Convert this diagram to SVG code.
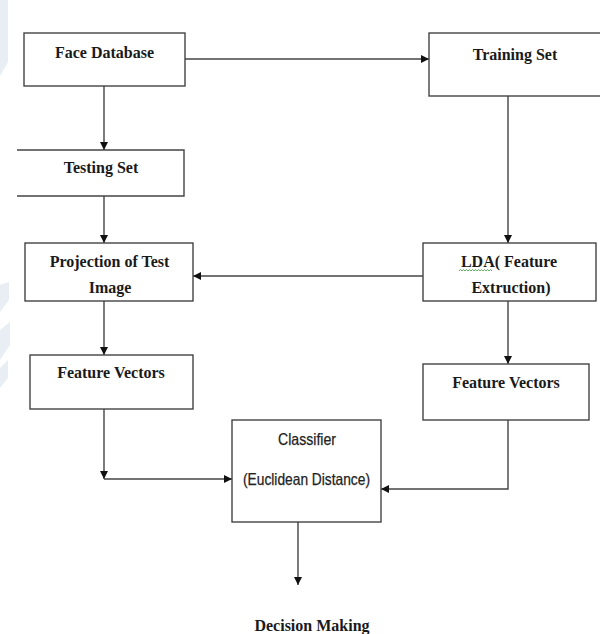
<svg xmlns="http://www.w3.org/2000/svg" width="600" height="634" viewBox="0 0 600 634">
  <defs>
    <marker id="arr" viewBox="0 0 10 10" refX="10" refY="5" markerWidth="8" markerHeight="8" orient="auto" markerUnits="userSpaceOnUse">
      <path d="M0,0 L10,5 L0,10 Z" fill="#111"/>
    </marker>
  </defs>
  <style>
    .box { fill: #fff; stroke: #444; stroke-width: 1.4; }
    .edge { fill: none; stroke: #444; stroke-width: 1.4; }
    .t { font-family: "Liberation Serif", "Times New Roman", serif; font-weight: bold; font-size: 16px; fill: #1a1a1a; text-anchor: middle; }
    .s { font-family: "Liberation Sans", Arial, sans-serif; font-size: 16.5px; fill: #222; text-anchor: middle; stroke: #222; stroke-width: 0.25; }
    .wm { fill: #e9edf4; }
  </style>
  <rect x="0" y="0" width="600" height="634" fill="#fff"/>
  <g id="watermark">
    <polygon class="wm" points="0,0 8,0 8,62 0,76"/>
    <polygon class="wm" points="0,285 9,282 9,300 0,312"/>
    <polygon class="wm" points="0,330 10,322 10,345 0,360"/>
    <polygon class="wm" points="0,368 8,360 8,378 0,388"/>
  </g>

  <g id="connectors">
    <path class="edge" d="M104,86 V150" marker-end="url(#arr)"/>
    <path class="edge" d="M185,59 H429" marker-end="url(#arr)"/>
    <path class="edge" d="M104,196 V243" marker-end="url(#arr)"/>
    <path class="edge" d="M508,96 V243" marker-end="url(#arr)"/>
    <path class="edge" d="M423,276 H193" marker-end="url(#arr)"/>
    <path class="edge" d="M104,301 V355" marker-end="url(#arr)"/>
    <path class="edge" d="M508,301 V364" marker-end="url(#arr)"/>
    <path class="edge" d="M104,409 V479" marker-end="url(#arr)"/>
    <path class="edge" d="M104,479 H232" marker-end="url(#arr)"/>
    <path class="edge" d="M508,420 V489 H381" marker-end="url(#arr)"/>
    <path class="edge" d="M298,522 V585" marker-end="url(#arr)"/>
  </g>

  <g id="face-database">
    <rect class="box" x="24" y="33" width="161" height="53"/>
    <text class="t" x="104.5" y="58">Face Database</text>
  </g>
  <g id="training-set">
    <rect class="box" x="429" y="33" width="180" height="63"/>
    <text class="t" x="515" y="60">Training Set</text>
  </g>
  <g id="testing-set">
    <rect x="17" y="150" width="167" height="46" fill="#fff"/>
    <path class="edge" d="M17,150 H184 V196 H17"/>
    <text class="t" x="101" y="173">Testing Set</text>
  </g>
  <g id="projection">
    <rect class="box" x="25" y="243" width="168" height="58"/>
    <text class="t" x="109.5" y="267">Projection of Test</text>
    <text class="t" x="110" y="293">Image</text>
  </g>
  <g id="lda">
    <rect class="box" x="423" y="243" width="173" height="58"/>
    <text class="t" x="509" y="267">LDA( Feature</text>
    <path d="M459,271 l1.5,-1.5 l1.5,1.5 l1.5,-1.5 l1.5,1.5 l1.5,-1.5 l1.5,1.5 l1.5,-1.5 l1.5,1.5 l1.5,-1.5 l1.5,1.5 l1.5,-1.5 l1.5,1.5 l1.5,-1.5 l1.5,1.5 l1.5,-1.5 l1.5,1.5 l1.5,-1.5 l1.5,1.5 l1.5,-1.5 l1.5,1.5 l1.5,-1.5 l1.5,1.5" fill="none" stroke="#3a9a3a" stroke-width="0.8"/>
    <text class="t" x="511" y="293">Extruction)</text>
  </g>
  <g id="feature-vectors-left">
    <rect class="box" x="30" y="355" width="163" height="54"/>
    <text class="t" x="111" y="378">Feature Vectors</text>
  </g>
  <g id="feature-vectors-right">
    <rect class="box" x="423" y="364" width="166" height="56"/>
    <text class="t" x="506" y="388">Feature Vectors</text>
  </g>
  <g id="classifier">
    <rect class="box" x="232" y="420" width="149" height="102"/>
    <text class="s" x="307" y="445" textLength="58" lengthAdjust="spacingAndGlyphs">Classifier</text>
    <text class="s" x="306.5" y="485" textLength="127" lengthAdjust="spacingAndGlyphs">(Euclidean Distance)</text>
  </g>
  <g id="decision-making">
    <text class="t" x="312" y="631">Decision Making</text>
  </g>
</svg>
